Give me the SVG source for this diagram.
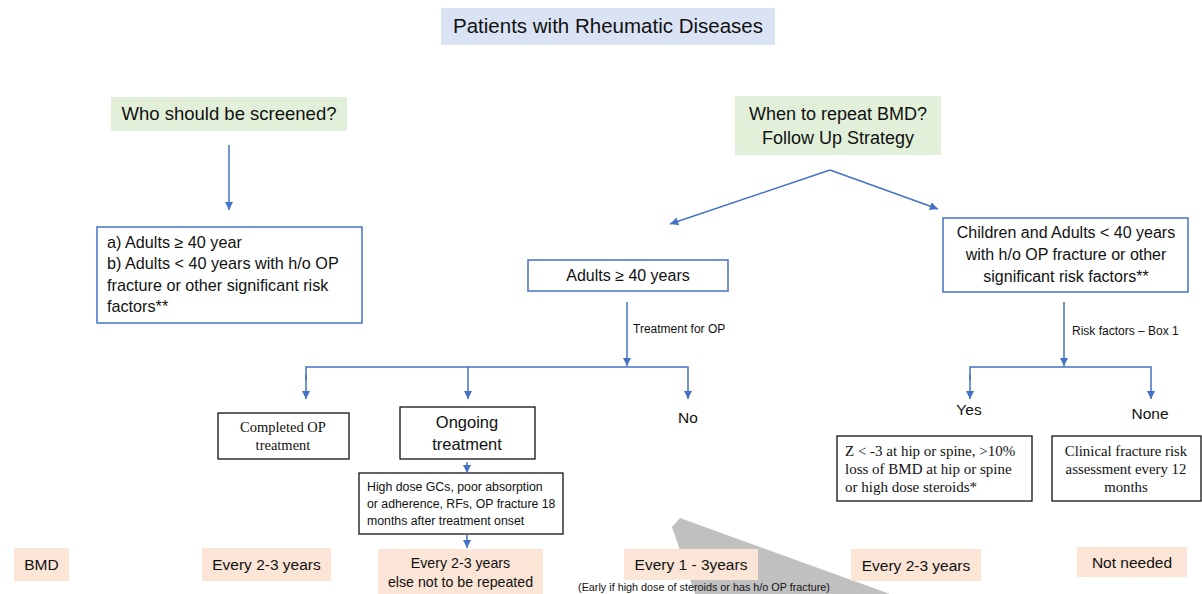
<svg xmlns="http://www.w3.org/2000/svg" width="1202" height="594" viewBox="0 0 1202 594">
<style>
.s{font-family:"Liberation Sans",Arial,sans-serif;fill:#111}
.r{font-family:"Liberation Serif","Times New Roman",serif;fill:#111}
.bb{fill:#fff;stroke:#4472c4;stroke-width:1.5}
.kb{fill:#fff;stroke:#111;stroke-width:1.3}
.gr{fill:#e2f0d9}
.bl{fill:#dae3f3}
.or{fill:#fbe5d6}
.c line,.c polyline,.c path{stroke:#4472c4;stroke-width:1.5;fill:none}
</style>
<defs>
<marker id="ah" viewBox="0 0 10 10" refX="10" refY="5" markerWidth="5.5" markerHeight="5.5" orient="auto" markerUnits="strokeWidth">
<path d="M0,0 L10,5 L0,10 z" fill="#4472c4"/>
</marker>
</defs>
<rect width="1202" height="594" fill="#fff"/>

<g id="title"><rect class="bl" x="441" y="8" width="334" height="37"/><text class="s" x="608" y="33" font-size="20.5" text-anchor="middle">Patients with Rheumatic Diseases</text></g>

<g id="who"><rect class="gr" x="111" y="97" width="236" height="34"/><text class="s" x="229" y="120" font-size="18.5" text-anchor="middle">Who should be screened?</text></g>

<g id="when"><rect class="gr" x="735" y="96" width="206" height="59"/><text class="s" font-size="18" text-anchor="middle"><tspan x="838" y="120">When to repeat BMD?</tspan><tspan x="838" y="144">Follow Up Strategy</tspan></text></g>

<g id="screen"><rect class="bb" x="97" y="227" width="265" height="96"/><text class="s" font-size="16.2"><tspan x="107" y="248">a) Adults ≥ 40 year</tspan><tspan x="107" y="269">b) Adults &lt; 40 years with h/o OP</tspan><tspan x="107" y="291">fracture or other significant risk</tspan><tspan x="107" y="312">factors**</tspan></text></g>

<g id="adults40"><rect class="bb" x="528" y="260" width="200" height="31"/><text class="s" x="628" y="281" font-size="16" text-anchor="middle">Adults ≥ 40 years</text></g>

<g id="children"><rect class="bb" x="943" y="218" width="245" height="74"/><text class="s" font-size="16" text-anchor="middle"><tspan x="1066" y="238">Children and Adults &lt; 40 years</tspan><tspan x="1066" y="260">with h/o OP fracture or other</tspan><tspan x="1066" y="282">significant risk factors**</tspan></text></g>

<g id="completed"><rect class="kb" x="218" y="413" width="131" height="46"/><text class="r" font-size="14.5" text-anchor="middle"><tspan x="283" y="432">Completed OP</tspan><tspan x="283" y="450">treatment</tspan></text></g>

<g id="ongoing"><rect class="kb" x="400" y="407" width="135" height="52"/><text class="s" font-size="16.5" text-anchor="middle"><tspan x="467" y="428">Ongoing</tspan><tspan x="467" y="450">treatment</tspan></text></g>

<g id="no"><text class="s" x="688" y="423" font-size="15.5" text-anchor="middle">No</text></g>

<g id="highdose"><rect class="kb" x="359" y="473" width="204" height="61"/><text class="s" font-size="12.3"><tspan x="367" y="491">High dose GCs, poor absorption</tspan><tspan x="367" y="508">or adherence, RFs, OP fracture 18</tspan><tspan x="367" y="525">months after treatment onset</tspan></text></g>

<g id="yes"><text class="s" x="969" y="415" font-size="15.5" text-anchor="middle">Yes</text></g>
<g id="none"><text class="s" x="1150" y="419" font-size="15.5" text-anchor="middle">None</text></g>

<g id="zbox"><rect class="kb" x="837" y="436" width="195" height="65"/><text class="r" font-size="15"><tspan x="845" y="456">Z &lt; -3 at hip or spine, &gt;10%</tspan><tspan x="845" y="474">loss of BMD at hip or spine</tspan><tspan x="845" y="492">or high dose steroids*</tspan></text></g>

<g id="clinical"><rect class="kb" x="1052" y="436" width="149" height="65"/><text class="r" font-size="14.8" text-anchor="middle"><tspan x="1126" y="456">Clinical fracture risk</tspan><tspan x="1126" y="474">assessment every 12</tspan><tspan x="1126" y="492">months</tspan></text></g>

<g id="shade"><polygon points="672,527 680,518 890,594 695,594" fill="#c0c0c0"/></g>

<g id="bmd"><rect class="or" x="14" y="548" width="55" height="33"/><text class="s" x="41.5" y="570" font-size="15.5" text-anchor="middle">BMD</text></g>
<g id="f1"><rect class="or" x="202" y="548" width="129" height="33"/><text class="s" x="266.5" y="570" font-size="15.5" text-anchor="middle">Every 2-3 years</text></g>
<g id="f2"><rect class="or" x="378" y="549" width="165" height="50"/><text class="s" font-size="14.2" text-anchor="middle"><tspan x="460.5" y="568">Every 2-3 years</tspan><tspan x="460.5" y="587">else not to be repeated</tspan></text></g>
<g id="f3"><rect class="or" x="624" y="549" width="134" height="31"/><text class="s" x="691" y="570" font-size="15.5" text-anchor="middle">Every 1 - 3years</text><text class="s" x="704" y="591" font-size="10.8" text-anchor="middle">(Early if high dose of steroids or has h/o OP fracture)</text></g>
<g id="f4"><rect class="or" x="851" y="549" width="130" height="32"/><text class="s" x="916" y="571" font-size="15.5" text-anchor="middle">Every 2-3 years</text></g>
<g id="f5"><rect class="or" x="1077" y="547" width="110" height="30"/><text class="s" x="1132" y="568" font-size="15.5" text-anchor="middle">Not needed</text></g>

<g id="connectors" class="c">
<line x1="229" y1="145" x2="229" y2="210" marker-end="url(#ah)"/>
<line x1="830" y1="170" x2="670" y2="224" marker-end="url(#ah)"/>
<line x1="830" y1="170" x2="938" y2="209" marker-end="url(#ah)"/>
<line x1="627" y1="302" x2="627" y2="366" marker-end="url(#ah)"/>
<polyline points="306,380 306,367 688,367 688,399" marker-end="url(#ah)"/>
<line x1="306" y1="375" x2="306" y2="399" marker-end="url(#ah)"/>
<line x1="468" y1="367" x2="468" y2="399" marker-end="url(#ah)"/>
<line x1="467" y1="462" x2="467" y2="473" marker-end="url(#ah)"/>
<line x1="467" y1="535" x2="467" y2="548" marker-end="url(#ah)"/>
<line x1="1064" y1="302" x2="1064" y2="366" marker-end="url(#ah)"/>
<polyline points="970,380 970,367 1151,367 1151,399" marker-end="url(#ah)"/>
<line x1="970" y1="375" x2="970" y2="399" marker-end="url(#ah)"/>
</g>
<g id="labels">
<text class="s" x="633" y="333" font-size="12">Treatment for OP</text>
<text class="s" x="1072" y="335" font-size="12">Risk factors – Box 1</text>
</g>
</svg>
